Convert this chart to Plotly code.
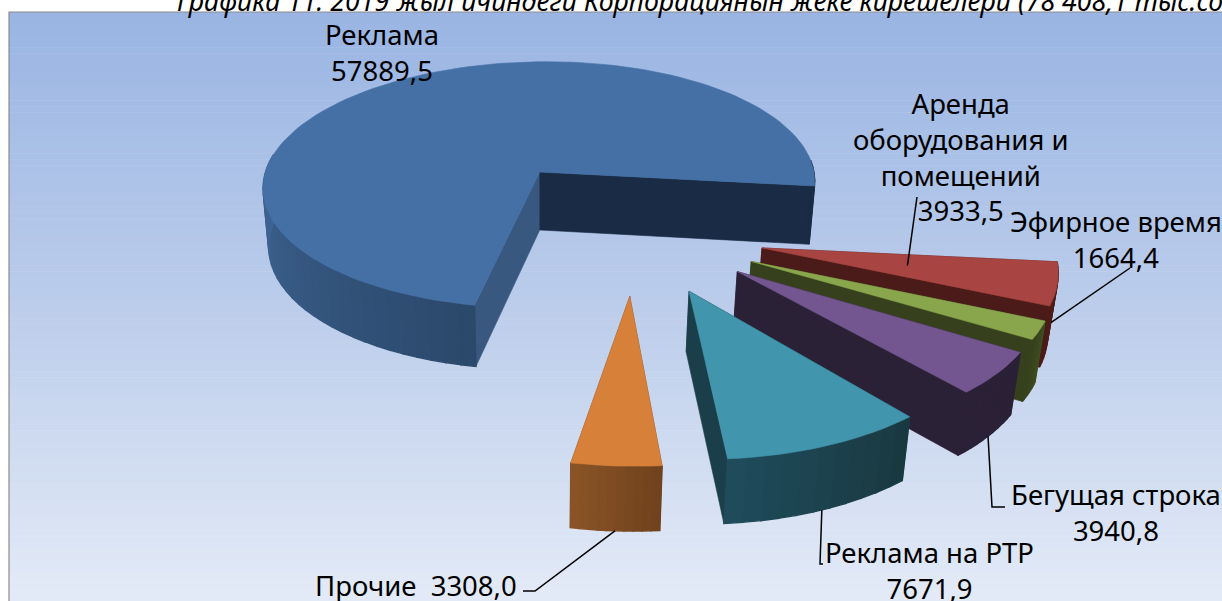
import math
import plotly.graph_objects as go

# ---- data ----
categories = ["Реклама", "Аренда<br>оборудования и<br>помещений", "Эфирное время", "Бегущая строка", "Реклама на РТР", "Прочие"]
values = [57889.5, 3933.5, 1664.4, 3940.8, 7671.9, 3308.0]
title_text = "Графика 11. 2019 жыл ичиндеги Корпорациянын жеке кирешелери (78 408,1 тыс.сом)"

# ---- style ----
W, H_PX = 1222, 601
FONT = "Noto Sans"
top_colors = ["#4570a6", "#a84442", "#8aa64c", "#73568f", "#4195ad", "#d7803a"]
arc_a = ["#2b486a", "#5c1f1c", "#3f4f20", "#2b2137", "#19383f", "#6f411c"]
arc_b = ["#3d6493", "#4a1b18", "#36401d", "#2b2137", "#1f4c5c", "#8a5427"]
edge_colors = ["#1a2c45", "#4a1b18", "#36401d", "#2b2137", "#1b3f4a", "#6f411c"]
start_colors = ["#38587f", "#4a1b18", "#36401d", "#2b2137", "#1b3f4a", "#6f411c"]

CX, CY, RX, RY, P, DEPTH, PULL, START = 539, 172, 277, 123, 0.105, 58, 0.5, 6.5
BOT_SCALE = 0.98
# small per-slice corrections of the perspective, in pixels
radius_scale = [0.99, 1, 1, 1, 1, 1]
shear = [-0.06, 0, 0, 0, 0, 0]
shift = [(4, 0), (-5, 4), (-3, 3), (0, 1), (-1, 2), (7, 2)]
apex_nudge = [(0, 0), (3, 2), (0, 2), (0, 1), (7, 0), (5, 0)]


def project(X, Y, drop=False, k=0.0):
    s = 1 / (1 - P * Y)
    px = CX + RX * X * s
    py = CY + RY * Y * s
    px += k * (py - CY)
    if drop:
        py += DEPTH * math.sqrt(s)
        px = CX + (px - CX) * BOT_SCALE
    return px, py


total = sum(values)
sweeps = [v / total * 360 for v in values]
# clockwise order from the east: every slice but the first, then the first
order = [1, 2, 3, 4, 5, 0]
spans = {}
a = START
for i in order:
    spans[i] = (a, a + sweeps[i])
    a += sweeps[i]


def direction(t):
    return math.cos(math.radians(t)), math.sin(math.radians(t))


mid0 = sum(spans[0]) / 2
X0 = -PULL * direction(mid0)[0] - 0.012
Y0 = -PULL * direction(mid0)[1]


def apex(i):
    d = direction(sum(spans[i]) / 2)
    return X0 + PULL * d[0], Y0 + PULL * d[1]


def on_slice(i, t, r=1.0, drop=False):
    ax, ay = apex(i)
    d = direction(t)
    q = r * radius_scale[i]
    px, py = project(ax + q * d[0], ay + q * d[1], drop, shear[i])
    return (px + shift[i][0] + (1 - r) * apex_nudge[i][0],
            py + shift[i][1] + (1 - r) * apex_nudge[i][1])


def mix(c1, c2, f):
    f = max(0, min(1, f))
    a1 = [int(c1[k:k + 2], 16) for k in (1, 3, 5)]
    a2 = [int(c2[k:k + 2], 16) for k in (1, 3, 5)]
    return "#%02x%02x%02x" % tuple(round(p + (q - p) * f) for p, q in zip(a1, a2))


fig = go.Figure()


def poly(pts, color, width=0.6):
    fig.add_trace(go.Scatter(x=[p[0] for p in pts] + [pts[0][0]], y=[p[1] for p in pts] + [pts[0][1]],
                             mode="lines", fill="toself", fillcolor=color,
                             line=dict(color=color, width=width), hoverinfo="skip", showlegend=False))


def wall_radial(i, t, color):
    a0, a1 = on_slice(i, t, 0), on_slice(i, t, 1)
    b0, b1 = on_slice(i, t, 0, True), on_slice(i, t, 1, True)
    poly([a0, a1, b1, b0], color)


for i in [0, 1, 2, 3, 4, 5]:
    t1, t2 = spans[i]
    wall_radial(i, t1, start_colors[i])
    wall_radial(i, t2, edge_colors[i])
    # outer wall, in narrow strips for the shading
    n = max(10, int((t2 - t1) / 3))
    for k in range(n):
        u1 = t1 + (t2 - t1) * k / n
        u2 = t1 + (t2 - t1) * (k + 1) / n
        if math.sin(math.radians((u1 + u2) / 2)) < -0.12:
            continue
        if i == 0:
            um = (u1 + u2) / 2
            c = edge_colors[0] if um > 270 else mix(arc_a[0], arc_b[0], (um - t1) / (180 - t1))
        else:
            c = mix(arc_a[i], arc_b[i], (k + 0.5) / n)
        poly([on_slice(i, u1), on_slice(i, u2), on_slice(i, u2, 1, True), on_slice(i, u1, 1, True)], c, 1.4)
    # top face
    m = max(8, int((t2 - t1) / 2))
    pts = [on_slice(i, 0, 0)] + [on_slice(i, t1 + (t2 - t1) * k / m) for k in range(m + 1)]
    poly(pts, top_colors[i])

# leader lines: (slice, share of sweep, radius, on lower rim, then free points towards the label)
leaders = [
    (1, 0.5, 0.5, False, [(917, 197)]),
    (2, 0.0, 1.02, False, [(1130, 268)]),
    (3, 0.5, 1.0, True, [(992, 507), (1005, 507)]),
    (4, 0.5, 1.0, True, [(820, 564), (823, 564)]),
    (5, 0.5, 1.0, True, [(535, 591), (523, 591)]),
]
for i, f, r, low, rest in leaders:
    t1, t2 = spans[i]
    s = on_slice(i, t1 + (t2 - t1) * f, r, low)
    pts = [s] + rest
    fig.add_trace(go.Scatter(x=[p[0] for p in pts], y=[p[1] for p in pts], mode="lines",
                             line=dict(color="#000000", width=1.5), hoverinfo="skip", showlegend=False))


def fmt(v):
    return f"{v:.1f}".replace(".", ",")


label_pos = [(382, 15), (961, 84), (1116, 202), (1116, 475), (929, 533), (416, 566)]
for i, (name, v) in enumerate(zip(categories, values)):
    txt = f"{name}  {fmt(v)}" if name == "Прочие" else f"{name}<br>{fmt(v)}"
    fig.add_annotation(x=label_pos[i][0], y=label_pos[i][1], text=txt, showarrow=False,
                       xanchor="center", yanchor="top", align="center",
                       font=dict(family=FONT, size=27.5, color="#000000"), borderpad=0)

fig.add_annotation(x=175, y=0, text=f"<i>{title_text}</i>", showarrow=False, xanchor="left", yanchor="middle",
                   font=dict(family=FONT, size=26.7, color="#000000"))

# panel with its vertical gradient
shapes = []
PX0, PY0 = 9, 12
steps = 100
for k in range(steps):
    y0 = PY0 + (H_PX - PY0) * k / steps
    y1 = PY0 + (H_PX - PY0) * (k + 1) / steps
    c = mix("#9ab5e3", "#bccdeb", k / 50) if k < 50 else mix("#bccdeb", "#e4ebf7", (k - 50) / 50)
    shapes.append(dict(type="rect", x0=PX0, x1=W, y0=y0, y1=y1 + 0.5, fillcolor=c, line_width=0, layer="below"))
shapes.append(dict(type="path", path=f"M {PX0} {H_PX} L {PX0} {PY0} L {W} {PY0}", line=dict(color="#8c8c8c", width=1.2), layer="above"))

fig.update_layout(width=W, height=H_PX, margin=dict(l=0, r=0, t=0, b=0), paper_bgcolor="#ffffff", plot_bgcolor="rgba(0,0,0,0)",
                  showlegend=False, shapes=shapes,
                  xaxis=dict(range=[0, W], visible=False, fixedrange=True),
                  yaxis=dict(range=[H_PX, 0], visible=False, fixedrange=True))
fig.write_html("out.html", config={"displayModeBar": False},
               post_script="document.body.style.margin='0';document.body.style.overflow='hidden';")
